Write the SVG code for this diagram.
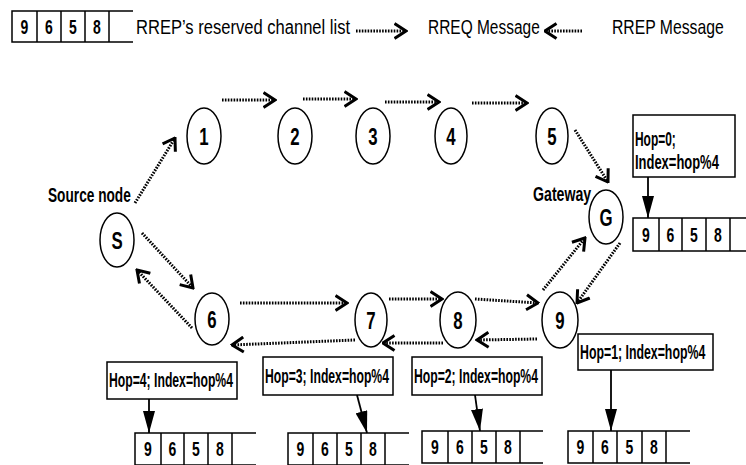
<svg xmlns="http://www.w3.org/2000/svg" width="746" height="465" viewBox="0 0 746 465">
<defs>
<style>
.n{fill:#fff;stroke:#000;stroke-width:1.5}
.nl{font-family:"Liberation Sans",Arial,sans-serif;font-weight:bold;font-size:24px;text-anchor:middle}
.d{fill:none;stroke:#000;stroke-width:3;stroke-dasharray:1.6 1.3;marker-end:url(#ch)}
.t{fill:none;stroke:#000;stroke-width:1.5}
.td{font-family:"Liberation Sans",Arial,sans-serif;font-weight:bold;font-size:20px;text-anchor:middle}
.hb{fill:#fff;stroke:#000;stroke-width:1.5}
.ht{font-family:"Liberation Sans",Arial,sans-serif;font-weight:bold;font-size:20px}
.lg{font-family:"Liberation Sans",Arial,sans-serif;font-size:21px}
.lb{font-family:"Liberation Sans",Arial,sans-serif;font-weight:bold;font-size:20px}
.pa{stroke:#000;stroke-width:1.8;marker-end:url(#tri)}
</style>
<marker id="ch" viewBox="0 0 14 18" refX="12.5" refY="9" markerWidth="14" markerHeight="18" markerUnits="userSpaceOnUse" orient="auto"><path d="M1,1.5 L12.5,9 L1,16.5" fill="none" stroke="#000" stroke-width="3" stroke-dasharray="none"/></marker>
<marker id="tri" viewBox="0 0 22 12" refX="22" refY="6" markerWidth="22" markerHeight="12" markerUnits="userSpaceOnUse" orient="auto"><path d="M0,0 L22,6 L0,12Z" fill="#000"/></marker>
</defs>
<rect width="746" height="465" fill="#fff"/>

<g id="legend">
<path class="t" d="M133,11 H12 V42 H133 M37,11 V42 M61,11 V42 M85,11 V42 M109,11 V42"/>
<text class="td" transform="translate(24.5,34) scale(0.7,1)">9</text>
<text class="td" transform="translate(49,34) scale(0.7,1)">6</text>
<text class="td" transform="translate(73,34) scale(0.7,1)">5</text>
<text class="td" transform="translate(97,34) scale(0.7,1)">8</text>
<text class="lg" transform="translate(136,34) scale(0.79,1)" textLength="271" lengthAdjust="spacingAndGlyphs">RREP’s reserved channel list</text>
<path class="d" d="M356,31 L406,31"/>
<text class="lg" transform="translate(428,34) scale(0.74,1)" textLength="151" lengthAdjust="spacingAndGlyphs">RREQ Message</text>
<path class="d" d="M582,31 L545,31"/>
<text class="lg" transform="translate(612,34) scale(0.75,1)" textLength="149" lengthAdjust="spacingAndGlyphs">RREP Message</text>
</g>

<g id="connectors">
<path class="d" d="M135,203 L175,138"/>
<path class="d" d="M222,100 L275,100"/>
<path class="d" d="M303,99 L356,99"/>
<path class="d" d="M385,102 L439,102"/>
<path class="d" d="M472,103 L527,103"/>
<path class="d" d="M575,130 L608,182"/>
<path class="d" d="M142,233 L193,288"/>
<path class="d" d="M192,328 L137,270"/>
<path class="d" d="M240,303 L347,303"/>
<path class="d" d="M355,340 L232,345"/>
<path class="d" d="M389,299 L442,299"/>
<path class="d" d="M443,343 L383,343"/>
<path class="d" d="M475,299 L538,303"/>
<path class="d" d="M537,339 L477,340"/>
<path class="d" d="M543,290 L585,238"/>
<path class="d" d="M620,243 L577,303"/>
<path class="pa" d="M648,177 L648,218"/>
<path class="pa" d="M611,370 L611,431"/>
<path class="pa" d="M475,395 L480,431"/>
<path class="pa" d="M357,395 L367,433"/>
<path class="pa" d="M149,399 L149,433"/>
</g>

<g id="S"><ellipse class="n" cx="117" cy="240" rx="17" ry="27"/><text class="nl" transform="translate(117,248.5) scale(0.7,1)">S</text></g>
<text class="lb" transform="translate(48,202) scale(0.69,1)" textLength="120" lengthAdjust="spacingAndGlyphs">Source node</text>
<g id="n1"><ellipse class="n" cx="204" cy="136" rx="17" ry="28"/><text class="nl" transform="translate(204,144.5) scale(0.7,1)">1</text></g>
<g id="n2"><ellipse class="n" cx="295" cy="136" rx="17" ry="28"/><text class="nl" transform="translate(295,144.5) scale(0.7,1)">2</text></g>
<g id="n3"><ellipse class="n" cx="373" cy="136" rx="17" ry="28"/><text class="nl" transform="translate(373,144.5) scale(0.7,1)">3</text></g>
<g id="n4"><ellipse class="n" cx="451" cy="136" rx="16" ry="28"/><text class="nl" transform="translate(451,144.5) scale(0.7,1)">4</text></g>
<g id="n5"><ellipse class="n" cx="552" cy="136" rx="16" ry="28"/><text class="nl" transform="translate(552,144.5) scale(0.7,1)">5</text></g>
<g id="G"><ellipse class="n" cx="606" cy="217" rx="17" ry="27"/><text class="nl" transform="translate(606,225.5) scale(0.7,1)">G</text></g>
<text class="lb" transform="translate(533,201) scale(0.71,1)" textLength="82" lengthAdjust="spacingAndGlyphs">Gateway</text>
<g id="n6"><ellipse class="n" cx="212" cy="319" rx="17" ry="26"/><text class="nl" transform="translate(212,327.5) scale(0.7,1)">6</text></g>
<g id="n7"><ellipse class="n" cx="371" cy="320" rx="16" ry="27"/><text class="nl" transform="translate(371,328.5) scale(0.7,1)">7</text></g>
<g id="n8"><ellipse class="n" cx="458" cy="320" rx="18" ry="28"/><text class="nl" transform="translate(458,328.5) scale(0.7,1)">8</text></g>
<g id="n9"><ellipse class="n" cx="560" cy="320" rx="18" ry="28"/><text class="nl" transform="translate(560,328.5) scale(0.7,1)">9</text></g>

<g id="hop0">
<rect class="hb" x="633" y="115" width="102" height="62"/>
<text class="ht" transform="translate(635,146) scale(0.6,1)" textLength="68" lengthAdjust="spacingAndGlyphs">Hop=0;</text>
<text class="ht" transform="translate(635,169) scale(0.65,1)" textLength="129" lengthAdjust="spacingAndGlyphs">Index=hop%4</text>
</g>
<g id="table0">
<path class="t" d="M754,218 H633 V251 H754 M659,218 V251 M682,218 V251 M706,218 V251 M730,218 V251"/>
<text class="td" transform="translate(646,242) scale(0.7,1)">9</text>
<text class="td" transform="translate(670.5,242) scale(0.7,1)">6</text>
<text class="td" transform="translate(694,242) scale(0.7,1)">5</text>
<text class="td" transform="translate(718,242) scale(0.7,1)">8</text>
</g>

<g id="hop1">
<rect class="hb" x="578" y="334" width="135" height="36"/>
<text class="ht" transform="translate(580,359) scale(0.62,1)" textLength="202" lengthAdjust="spacingAndGlyphs">Hop=1; Index=hop%4</text>
</g>
<g id="table1">
<path class="t" d="M690,431 H568 V463 H690 M593,431 V463 M617,431 V463 M642,431 V463 M666,431 V463"/>
<text class="td" transform="translate(580.5,454) scale(0.7,1)">9</text>
<text class="td" transform="translate(605,454) scale(0.7,1)">6</text>
<text class="td" transform="translate(629.5,454) scale(0.7,1)">5</text>
<text class="td" transform="translate(654,454) scale(0.7,1)">8</text>
</g>

<g id="hop2">
<rect class="hb" x="412" y="357" width="130" height="38"/>
<text class="ht" transform="translate(414,383) scale(0.62,1)" textLength="200" lengthAdjust="spacingAndGlyphs">Hop=2; Index=hop%4</text>
</g>
<g id="table2">
<path class="t" d="M543,431 H422 V463 H543 M448,431 V463 M472,431 V463 M496,431 V463 M520,431 V463"/>
<text class="td" transform="translate(435,454) scale(0.7,1)">9</text>
<text class="td" transform="translate(460,454) scale(0.7,1)">6</text>
<text class="td" transform="translate(484,454) scale(0.7,1)">5</text>
<text class="td" transform="translate(508,454) scale(0.7,1)">8</text>
</g>

<g id="hop3">
<rect class="hb" x="263" y="357" width="130" height="38"/>
<text class="ht" transform="translate(265,383) scale(0.62,1)" textLength="200" lengthAdjust="spacingAndGlyphs">Hop=3; Index=hop%4</text>
</g>
<g id="table3">
<path class="t" d="M409,433 H288 V465 H409 M313,433 V465 M337,433 V465 M361,433 V465 M385,433 V465"/>
<text class="td" transform="translate(300.5,456) scale(0.7,1)">9</text>
<text class="td" transform="translate(325,456) scale(0.7,1)">6</text>
<text class="td" transform="translate(349,456) scale(0.7,1)">5</text>
<text class="td" transform="translate(373,456) scale(0.7,1)">8</text>
</g>

<g id="hop4">
<rect class="hb" x="107" y="362" width="130" height="37"/>
<text class="ht" transform="translate(109,387) scale(0.62,1)" textLength="200" lengthAdjust="spacingAndGlyphs">Hop=4; Index=hop%4</text>
</g>
<g id="table4">
<path class="t" d="M256,433 H135 V465 H256 M161,433 V465 M184,433 V465 M208,433 V465 M232,433 V465"/>
<text class="td" transform="translate(148,456) scale(0.7,1)">9</text>
<text class="td" transform="translate(172.5,456) scale(0.7,1)">6</text>
<text class="td" transform="translate(196,456) scale(0.7,1)">5</text>
<text class="td" transform="translate(220,456) scale(0.7,1)">8</text>
</g>
</svg>
